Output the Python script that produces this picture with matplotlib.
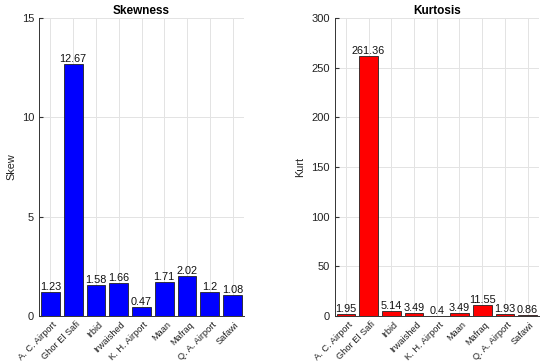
import matplotlib
matplotlib.use("Agg")
import matplotlib.pyplot as plt
from matplotlib.transforms import ScaledTranslation

stations = ["A. C. Airport", "Ghor El Safi", "Irbid", "Irwaished", "K. H. Airport",
            "Maan", "Mafraq", "Q. A. Airport", "Safawi"]
skew = [1.23, 12.67, 1.58, 1.66, 0.47, 1.71, 2.02, 1.2, 1.08]
kurt = [1.95, 261.36, 5.14, 3.49, 0.4, 3.49, 11.55, 1.93, 0.86]
skew_ticks = [0, 5, 10, 15]
kurt_ticks = [0, 50, 100, 150, 200, 250, 300]

plt.rcParams['font.family'] = ['Liberation Sans', 'DejaVu Sans']

fig = plt.figure(figsize=(5.5, 3.64), dpi=100)
W, H = 550, 364
ax1 = fig.add_axes([39 / W, 1 - 316 / H, (244 - 39) / W, (316 - 18) / H])
ax2 = fig.add_axes([334.5 / W, 1 - 316 / H, (539 - 334.5) / W, (316 - 18) / H])

def draw(ax, vals, color, title, ylabel, ticks):
    x = list(range(1, len(vals) + 1))
    ax.bar(x, vals, width=0.82, color=color, edgecolor='#222222', linewidth=0.6, zorder=3)
    for xi, v in zip(x, vals):
        ax.text(xi, v, f"{v:g}", ha='center', va='bottom', fontsize=7.8,
                color='#111111', zorder=4)
    ax.set_xlim(0.5, len(vals) + 0.5)
    ax.set_ylim(ticks[0], ticks[-1])
    ax.set_yticks(ticks)
    ax.set_xticks(x)
    ax.set_xticklabels([])
    off = ScaledTranslation(2 / 100, -4 / 100, fig.dpi_scale_trans)
    for xi, name in zip(x, stations):
        ax.text(xi, 0, name, transform=ax.get_xaxis_transform() + off,
                rotation=45, ha='right', va='top', rotation_mode='anchor',
                fontsize=6.7, color='#222222')
    ax.tick_params(axis='y', labelsize=8, direction='in', length=3,
                   color='#333333', labelcolor='#222222')
    ax.tick_params(axis='x', direction='in', length=0)
    ax.grid(True, color='#e3e3e3', linewidth=0.7, zorder=0)
    ax.set_axisbelow(True)
    for s in ['top', 'right']:
        ax.spines[s].set_visible(False)
    for s in ['left', 'bottom']:
        ax.spines[s].set_color('#333333')
        ax.spines[s].set_linewidth(0.7)
    ax.set_title(title, fontsize=8.5, fontweight='bold', pad=3)
    ax.set_ylabel(ylabel, fontsize=7.8, color='#222222')

draw(ax1, skew, '#0000ff', 'Skewness', 'Skew', skew_ticks)
draw(ax2, kurt, '#ff0000', 'Kurtosis', 'Kurt', kurt_ticks)

fig.savefig('out.png', dpi=100)
